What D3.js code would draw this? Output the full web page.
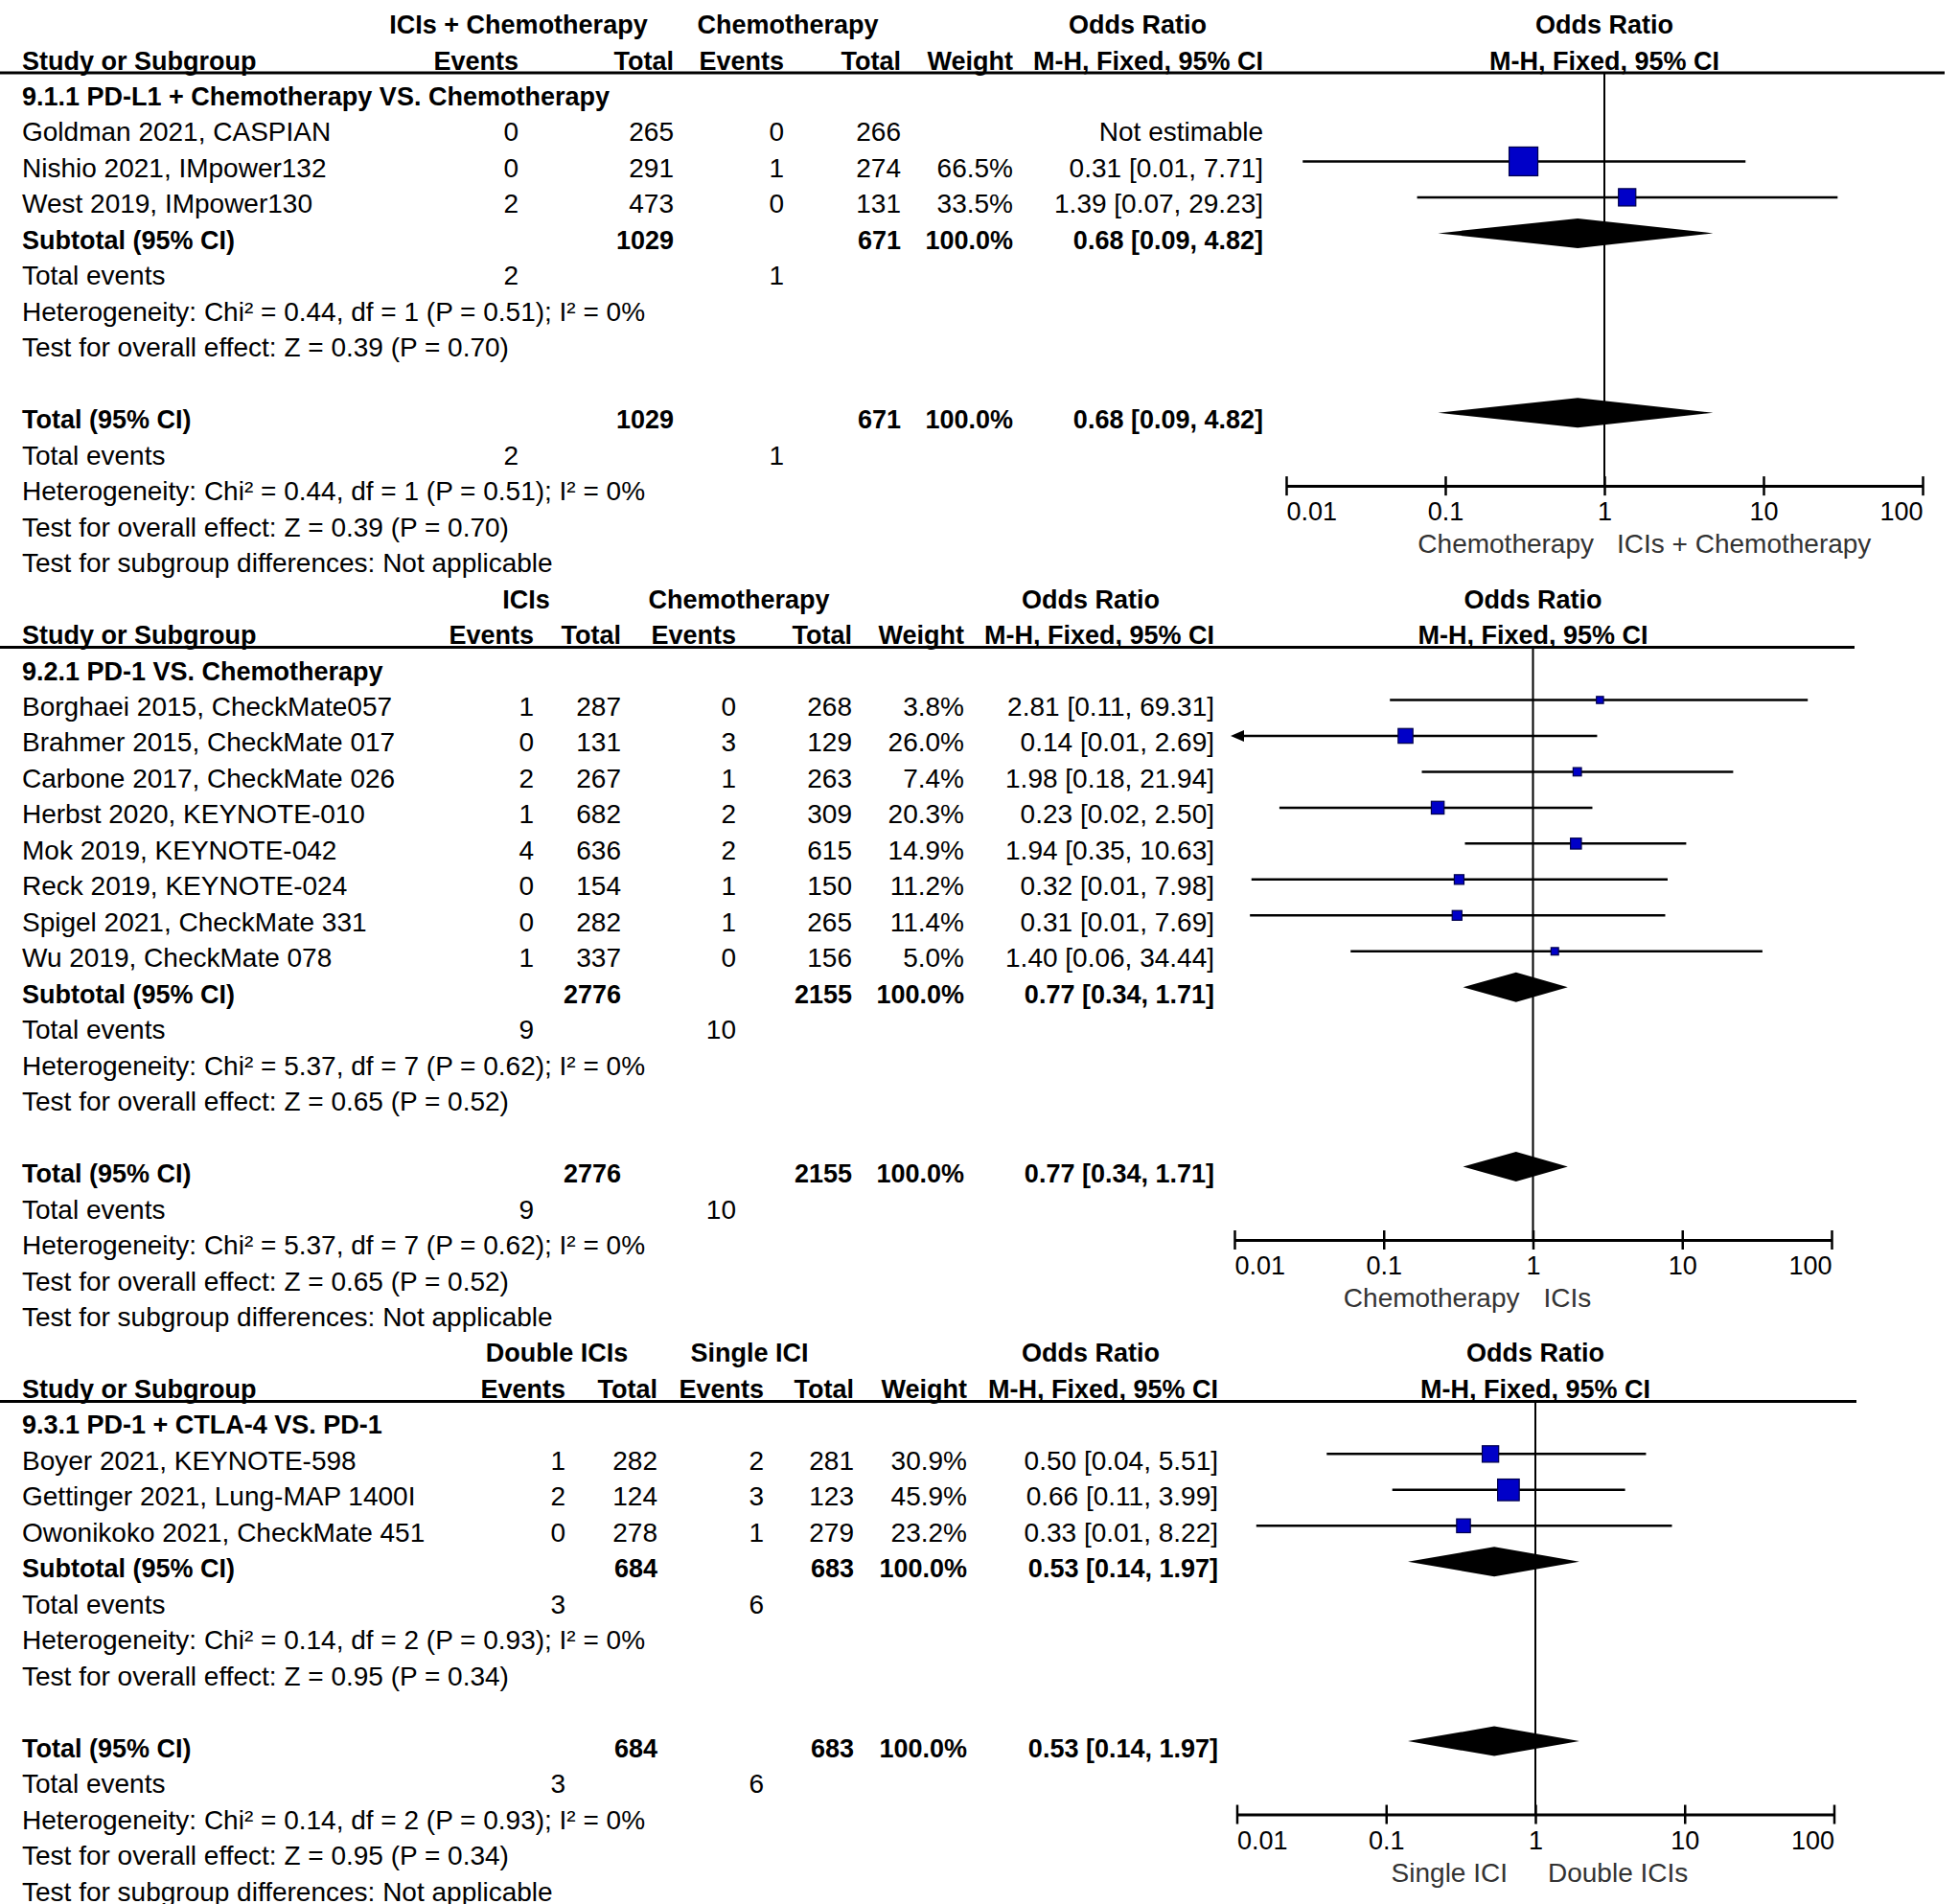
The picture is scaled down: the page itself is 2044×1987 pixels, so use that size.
<!DOCTYPE html>
<html><head><meta charset="utf-8">
<script src="https://cdn.jsdelivr.net/npm/d3@7"></script>
<style>body{margin:0;background:#fff;overflow:hidden} svg{display:block}</style>
</head><body>
<svg id="c" width="2044" height="1987"></svg>
<script>
// ---------------- DATA ----------------
const tickValues = [0.01, 0.1, 1, 10, 100];
const tickLabels = ["0.01", "0.1", "1", "10", "100"];

// Panel 1
const p1Title = "9.1.1 PD-L1 + Chemotherapy VS. Chemotherapy";
const p1Groups = ["ICIs + Chemotherapy", "Chemotherapy"];
const p1Sides = ["Chemotherapy", "ICIs + Chemotherapy"];
const p1Studies = ["Goldman 2021, CASPIAN", "Nishio 2021, IMpower132", "West 2019, IMpower130"];
const p1EvT = [0, 0, 2];
const p1TotT = [265, 291, 473];
const p1EvC = [0, 1, 0];
const p1TotC = [266, 274, 131];
const p1Weight = [null, 66.5, 33.5];
const p1OR = [null, 0.31, 1.39];
const p1Lo = [null, 0.0127, 0.0665];
const p1Hi = [null, 7.71, 29.23];
const p1Sub = [1029, 671, 0.68, 0.09, 4.82];   // totT, totC, OR, lo, hi
const p1Events = [2, 1];
const p1Het = "Heterogeneity: Chi² = 0.44, df = 1 (P = 0.51); I² = 0%";
const p1Eff = "Test for overall effect: Z = 0.39 (P = 0.70)";

// Panel 2
const p2Title = "9.2.1 PD-1 VS. Chemotherapy";
const p2Groups = ["ICIs", "Chemotherapy"];
const p2Sides = ["Chemotherapy", "ICIs"];
const p2Studies = ["Borghaei 2015, CheckMate057", "Brahmer 2015, CheckMate 017", "Carbone 2017, CheckMate 026",
  "Herbst 2020, KEYNOTE-010", "Mok 2019, KEYNOTE-042", "Reck 2019, KEYNOTE-024", "Spigel 2021, CheckMate 331", "Wu 2019, CheckMate 078"];
const p2EvT = [1, 0, 2, 1, 4, 0, 0, 1];
const p2TotT = [287, 131, 267, 682, 636, 154, 282, 337];
const p2EvC = [0, 3, 1, 2, 2, 1, 1, 0];
const p2TotC = [268, 129, 263, 309, 615, 150, 265, 156];
const p2Weight = [3.8, 26.0, 7.4, 20.3, 14.9, 11.2, 11.4, 5.0];
const p2OR = [2.81, 0.14, 1.98, 0.23, 1.94, 0.32, 0.31, 1.40];
const p2Lo = [0.11, 0.007, 0.18, 0.02, 0.35, 0.013, 0.0127, 0.06];
const p2Hi = [69.31, 2.69, 21.94, 2.50, 10.63, 7.98, 7.69, 34.44];
const p2Sub = [2776, 2155, 0.77, 0.34, 1.71];
const p2Events = [9, 10];
const p2Het = "Heterogeneity: Chi² = 5.37, df = 7 (P = 0.62); I² = 0%";
const p2Eff = "Test for overall effect: Z = 0.65 (P = 0.52)";

// Panel 3
const p3Title = "9.3.1 PD-1 + CTLA-4 VS. PD-1";
const p3Groups = ["Double ICIs", "Single ICI"];
const p3Sides = ["Single ICI", "Double ICIs"];
const p3Studies = ["Boyer 2021, KEYNOTE-598", "Gettinger 2021, Lung-MAP 1400I", "Owonikoko 2021, CheckMate 451"];
const p3EvT = [1, 2, 0];
const p3TotT = [282, 124, 278];
const p3EvC = [2, 3, 1];
const p3TotC = [281, 123, 279];
const p3Weight = [30.9, 45.9, 23.2];
const p3OR = [0.50, 0.66, 0.33];
const p3Lo = [0.04, 0.11, 0.0135];
const p3Hi = [5.51, 3.99, 8.22];
const p3Sub = [684, 683, 0.53, 0.14, 1.97];
const p3Events = [3, 6];
const p3Het = "Heterogeneity: Chi² = 0.14, df = 2 (P = 0.93); I² = 0%";
const p3Eff = "Test for overall effect: Z = 0.95 (P = 0.34)";

// ---------------- LAYOUT ----------------
const FONT = "'Liberation Sans', Arial, sans-serif";
const FS = 28, FSB = 27, FST = 27;
const ROW0 = 110, ROWH = 37.47;
const baseline = r => ROW0 + ROWH * r;

const layouts = [
  {r0: 0,  nameX: 23, ev1: 541, tot1: 703, ev2: 818, tot2: 940, wt: 1057, orx: 1318, g1: 541, g2: 822, orh: 1187, px0: 1342, px1: 2006, lineEnd: 2029, labL: -11, labR: 13},
  {r0: 16, nameX: 23, ev1: 557, tot1: 648, ev2: 768, tot2: 889, wt: 1006, orx: 1267, g1: 549, g2: 771, orh: 1138, px0: 1288, px1: 1911, lineEnd: 1935, labL: -14, labR: 11},
  {r0: 37, nameX: 23, ev1: 590, tot1: 686, ev2: 797, tot2: 891, wt: 1009, orx: 1271, g1: 581, g2: 782, orh: 1138, px0: 1290.5, px1: 1913.5, lineEnd: 1937, labL: -29, labR: 13}
];

const panels = [
  {title: p1Title, groups: p1Groups, sides: p1Sides, studies: p1Studies, evT: p1EvT, totT: p1TotT, evC: p1EvC, totC: p1TotC, w: p1Weight, or: p1OR, lo: p1Lo, hi: p1Hi, sub: p1Sub, events: p1Events, het: p1Het, eff: p1Eff},
  {title: p2Title, groups: p2Groups, sides: p2Sides, studies: p2Studies, evT: p2EvT, totT: p2TotT, evC: p2EvC, totC: p2TotC, w: p2Weight, or: p2OR, lo: p2Lo, hi: p2Hi, sub: p2Sub, events: p2Events, het: p2Het, eff: p2Eff},
  {title: p3Title, groups: p3Groups, sides: p3Sides, studies: p3Studies, evT: p3EvT, totT: p3TotT, evC: p3EvC, totC: p3TotC, w: p3Weight, or: p3OR, lo: p3Lo, hi: p3Hi, sub: p3Sub, events: p3Events, het: p3Het, eff: p3Eff}
];

const f2 = d3.format(".2f"), f1 = d3.format(".1f");
const ciText = (o, l, h) => `${f2(o)} [${f2(l)}, ${f2(h)}]`;
const sizeScale = d3.scaleLinear().domain([0, 66.5]).range([6, 30]);

const svg = d3.select("#c");
svg.append("rect").attr("width", 2044).attr("height", 1987).attr("fill", "#fff");

function txt(g, x, y, s, opts = {}) {
  return g.append("text").attr("x", x).attr("y", y).text(s)
    .attr("font-family", FONT)
    .attr("font-size", opts.bold ? FSB : (opts.size || FS))
    .attr("font-weight", opts.bold ? "bold" : "normal")
    .attr("text-anchor", opts.anchor || "start")
    .attr("fill", opts.fill || "#000");
}

panels.forEach((p, i) => {
  const L = layouts[i];
  const g = svg.append("g");
  const n = p.studies.length;
  const x = d3.scaleLog().domain([0.01, 100]).range([L.px0, L.px1]);
  const cx = x(1);
  const by = r => baseline(L.r0 + r);
  const my = r => by(r) - 16.5;

  // headers
  txt(g, L.g1, by(-2), p.groups[0], {bold: 1, anchor: "middle"});
  txt(g, L.g2, by(-2), p.groups[1], {bold: 1, anchor: "middle"});
  txt(g, L.orh, by(-2), "Odds Ratio", {bold: 1, anchor: "middle"});
  txt(g, cx, by(-2), "Odds Ratio", {bold: 1, anchor: "middle"});
  txt(g, L.nameX, by(-1), "Study or Subgroup", {bold: 1});
  txt(g, L.ev1, by(-1), "Events", {bold: 1, anchor: "end"});
  txt(g, L.tot1, by(-1), "Total", {bold: 1, anchor: "end"});
  txt(g, L.ev2, by(-1), "Events", {bold: 1, anchor: "end"});
  txt(g, L.tot2, by(-1), "Total", {bold: 1, anchor: "end"});
  txt(g, L.wt, by(-1), "Weight", {bold: 1, anchor: "end"});
  txt(g, L.orx, by(-1), "M-H, Fixed, 95% CI", {bold: 1, anchor: "end"});
  txt(g, cx, by(-1), "M-H, Fixed, 95% CI", {bold: 1, anchor: "middle"});

  const sepY = by(0) - 34;
  g.append("line").attr("x1", 0).attr("x2", L.lineEnd).attr("y1", sepY).attr("y2", sepY)
    .attr("stroke", "#000").attr("stroke-width", 3);

  txt(g, L.nameX, by(0), p.title, {bold: 1});

  // study rows
  p.studies.forEach((s, k) => {
    const r = k + 1;
    txt(g, L.nameX, by(r), s);
    txt(g, L.ev1, by(r), p.evT[k], {anchor: "end"});
    txt(g, L.tot1, by(r), p.totT[k], {anchor: "end"});
    txt(g, L.ev2, by(r), p.evC[k], {anchor: "end"});
    txt(g, L.tot2, by(r), p.totC[k], {anchor: "end"});
    if (p.w[k] != null) txt(g, L.wt, by(r), f1(p.w[k]) + "%", {anchor: "end"});
    txt(g, L.orx, by(r), p.or[k] == null ? "Not estimable" : ciText(p.or[k], p.lo[k], p.hi[k]), {anchor: "end"});
  });

  const summary = (r, label) => {
    txt(g, L.nameX, by(r), label, {bold: 1});
    txt(g, L.tot1, by(r), p.sub[0], {bold: 1, anchor: "end"});
    txt(g, L.tot2, by(r), p.sub[1], {bold: 1, anchor: "end"});
    txt(g, L.wt, by(r), "100.0%", {bold: 1, anchor: "end"});
    txt(g, L.orx, by(r), ciText(p.sub[2], p.sub[3], p.sub[4]), {bold: 1, anchor: "end"});
    txt(g, L.nameX, by(r + 1), "Total events");
    txt(g, L.ev1, by(r + 1), p.events[0], {anchor: "end"});
    txt(g, L.ev2, by(r + 1), p.events[1], {anchor: "end"});
    txt(g, L.nameX, by(r + 2), p.het);
    txt(g, L.nameX, by(r + 3), p.eff);
  };
  summary(n + 1, "Subtotal (95% CI)");
  summary(n + 6, "Total (95% CI)");
  txt(g, L.nameX, by(n + 10), "Test for subgroup differences: Not applicable");

  // axis
  const axisY = by(0) - 9.8 + ROWH * (n + 7.86);
  const ax = g.append("g").attr("transform", `translate(0,${axisY})`)
    .call(d3.axisBottom(x).tickValues(tickValues).tickSizeInner(10).tickSizeOuter(0).tickFormat((d, j) => tickLabels[j]));
  ax.select(".domain").attr("stroke", "#000").attr("stroke-width", 3);
  ax.selectAll(".tick line").attr("y1", -10).attr("y2", 10).attr("stroke", "#000").attr("stroke-width", 2.5);
  ax.selectAll(".tick text")
    .attr("y", 36).attr("dy", 0)
    .attr("font-family", FONT).attr("font-size", FST).attr("fill", "#000")
    .attr("text-anchor", (d, j) => j === 0 ? "start" : (j === tickValues.length - 1 ? "end" : "middle"));

  // reference line
  g.append("line").attr("x1", cx).attr("x2", cx).attr("y1", sepY).attr("y2", axisY)
    .attr("stroke", "#000").attr("stroke-width", 2);

  // side labels
  txt(g, cx + L.labL, axisY + 70, p.sides[0], {anchor: "end", fill: "#333"});
  txt(g, cx + L.labR, axisY + 70, p.sides[1], {anchor: "start", fill: "#333"});

  // study marks
  p.studies.forEach((s, k) => {
    if (p.or[k] == null) return;
    const y = my(k + 1);
    const lo = Math.max(p.lo[k], 0.01), hi = Math.min(p.hi[k], 100);
    const xs = x(lo);
    g.append("line").attr("x1", xs).attr("x2", x(hi)).attr("y1", y).attr("y2", y)
      .attr("stroke", "#000").attr("stroke-width", 2.5);
    if (p.lo[k] < 0.01) {
      g.append("path").attr("d", `M${xs - 4},${y} l14,-6 l0,12 Z`).attr("fill", "#000");
    }
    const sz = Math.max(7, sizeScale(p.w[k]));
    g.append("rect").attr("x", x(p.or[k]) - sz / 2).attr("y", y - sz / 2)
      .attr("width", sz).attr("height", sz)
      .attr("fill", "#0000c8").attr("stroke", "#00004a").attr("stroke-width", 1.2);
  });

  // diamonds
  [n + 1, n + 6].forEach(r => {
    const y = my(r);
    const pts = [[x(p.sub[3]), y], [x(p.sub[2]), y - 15.5], [x(p.sub[4]), y], [x(p.sub[2]), y + 15.5]];
    g.append("path").attr("d", "M" + pts.map(q => q.join(",")).join("L") + "Z").attr("fill", "#000");
  });
});
</script>
</body></html>
